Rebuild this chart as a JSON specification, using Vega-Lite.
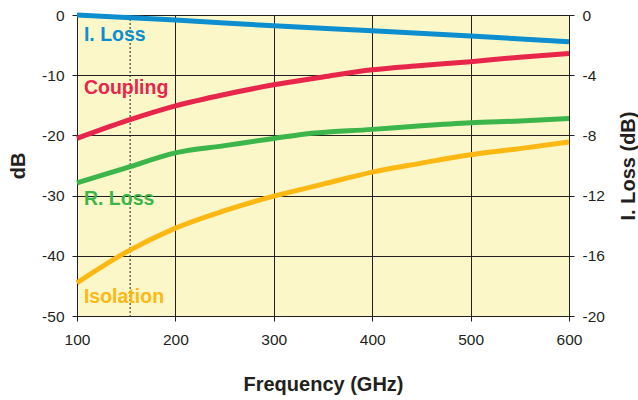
{
  "$schema": "https://vega.github.io/schema/vega-lite/v6.json",
  "autosize": {"type": "none"},
  "width": 492,
  "height": 301,
  "padding": {"left": 77, "top": 15, "right": 69, "bottom": 84},
  "background": "white",
  "config": {
    "view": {"fill": "#fbf7c9", "stroke": "#222222", "strokeWidth": 1},
    "font": "Liberation Sans",
    "axis": {
      "labelFont": "Liberation Sans",
      "labelFontSize": 15.5,
      "labelColor": "#231f20",
      "labelFlush": false,
      "titleFont": "Liberation Sans",
      "titleFontSize": 20,
      "titleFontWeight": "bold",
      "titleColor": "#231f20",
      "domainColor": "#231f20",
      "tickColor": "#231f20",
      "tickSize": 5,
      "gridColor": "#231f20",
      "gridOpacity": 1,
      "gridWidth": 1
    }
  },
  "datasets": {
    "curves": [
      {"series": "Coupling", "freq": 100, "db": -20.5},
      {"series": "Coupling", "freq": 150, "db": -17.6},
      {"series": "Coupling", "freq": 200, "db": -15.1},
      {"series": "Coupling", "freq": 250, "db": -13.2},
      {"series": "Coupling", "freq": 300, "db": -11.6},
      {"series": "Coupling", "freq": 350, "db": -10.3},
      {"series": "Coupling", "freq": 400, "db": -9.1},
      {"series": "Coupling", "freq": 450, "db": -8.4},
      {"series": "Coupling", "freq": 500, "db": -7.75},
      {"series": "Coupling", "freq": 550, "db": -7.0},
      {"series": "Coupling", "freq": 600, "db": -6.4},
      {"series": "R. Loss", "freq": 100, "db": -27.9},
      {"series": "R. Loss", "freq": 150, "db": -25.4},
      {"series": "R. Loss", "freq": 200, "db": -22.9},
      {"series": "R. Loss", "freq": 250, "db": -21.7},
      {"series": "R. Loss", "freq": 300, "db": -20.5},
      {"series": "R. Loss", "freq": 330, "db": -19.8},
      {"series": "R. Loss", "freq": 400, "db": -19.0},
      {"series": "R. Loss", "freq": 450, "db": -18.4},
      {"series": "R. Loss", "freq": 500, "db": -17.9},
      {"series": "R. Loss", "freq": 550, "db": -17.6},
      {"series": "R. Loss", "freq": 600, "db": -17.2},
      {"series": "Isolation", "freq": 100, "db": -44.5},
      {"series": "Isolation", "freq": 150, "db": -39.4},
      {"series": "Isolation", "freq": 200, "db": -35.4},
      {"series": "Isolation", "freq": 250, "db": -32.5},
      {"series": "Isolation", "freq": 300, "db": -30.1},
      {"series": "Isolation", "freq": 350, "db": -28.1},
      {"series": "Isolation", "freq": 400, "db": -26.1},
      {"series": "Isolation", "freq": 450, "db": -24.6},
      {"series": "Isolation", "freq": 500, "db": -23.2},
      {"series": "Isolation", "freq": 550, "db": -22.2},
      {"series": "Isolation", "freq": 600, "db": -21.1}
    ],
    "iloss": [
      {"series": "I. Loss", "freq": 100, "db": 0},
      {"series": "I. Loss", "freq": 200, "db": -0.33},
      {"series": "I. Loss", "freq": 300, "db": -0.72},
      {"series": "I. Loss", "freq": 400, "db": -1.05},
      {"series": "I. Loss", "freq": 500, "db": -1.4},
      {"series": "I. Loss", "freq": 600, "db": -1.77}
    ],
    "labels": [
      {"series": "I. Loss", "freq": 107, "db": -3.3},
      {"series": "Coupling", "freq": 107, "db": -12.1},
      {"series": "R. Loss", "freq": 107, "db": -30.6},
      {"series": "Isolation", "freq": 107, "db": -46.8}
    ],
    "marker": [
      {"freq": 154}
    ]
  },
  "encoding": {
    "x": {
      "field": "freq", "type": "quantitative",
      "scale": {"domain": [100, 600], "nice": false, "zero": false},
      "axis": {
        "title": "Frequency (GHz)",
        "values": [100, 200, 300, 400, 500, 600],
        "labelExpr": "toString(datum.value)",
        "grid": true,
        "labelPadding": 11,
        "titlePadding": 27
      }
    },
    "color": {
      "field": "series", "type": "nominal",
      "scale": {"domain": ["I. Loss", "Coupling", "R. Loss", "Isolation"], "range": ["#0d8ecf", "#e8254b", "#3cb54a", "#fdb813"]},
      "legend": null
    }
  },
  "layer": [
    {
      "encoding": {
        "y": {
          "field": "db", "type": "quantitative",
          "scale": {"domain": [-50, 0], "nice": false},
          "axis": {
            "title": "dB",
            "values": [-50, -40, -30, -20, -10, 0],
            "labelExpr": "toString(datum.value)",
            "grid": true,
            "labelPadding": 8,
            "titlePadding": 13
          }
        }
      },
      "layer": [
        {
          "data": {"name": "marker"},
          "mark": {"type": "rule", "strokeDash": [2, 2], "color": "#231f20", "strokeWidth": 1},
          "encoding": {
            "color": {"value": "#231f20"},
            "y": {"value": 0},
            "y2": {"value": 301}
          }
        },
        {
          "data": {"name": "curves"},
          "mark": {"type": "line", "strokeWidth": 5, "interpolate": "monotone"},
          "encoding": {
            "detail": {"field": "series"}
          }
        },
        {
          "data": {"name": "labels"},
          "mark": {"type": "text", "align": "left", "baseline": "middle", "font": "Liberation Sans", "fontSize": 19.5, "fontWeight": "bold"},
          "encoding": {
            "text": {"field": "series"}
          }
        }
      ]
    },
    {
      "data": {"name": "iloss"},
      "mark": {"type": "line", "strokeWidth": 5, "interpolate": "monotone"},
      "encoding": {
        "y": {
          "field": "db", "type": "quantitative",
          "scale": {"domain": [-20, 0], "nice": false},
          "axis": {
            "orient": "right",
            "title": "I. Loss (dB)",
            "titleAngle": 270,
            "values": [-20, -16, -12, -8, -4, 0],
            "labelExpr": "toString(datum.value)",
            "grid": false,
            "labelPadding": 8,
            "titlePadding": 34
          }
        }
      }
    }
  ],
  "resolve": {"scale": {"y": "independent"}}
}
